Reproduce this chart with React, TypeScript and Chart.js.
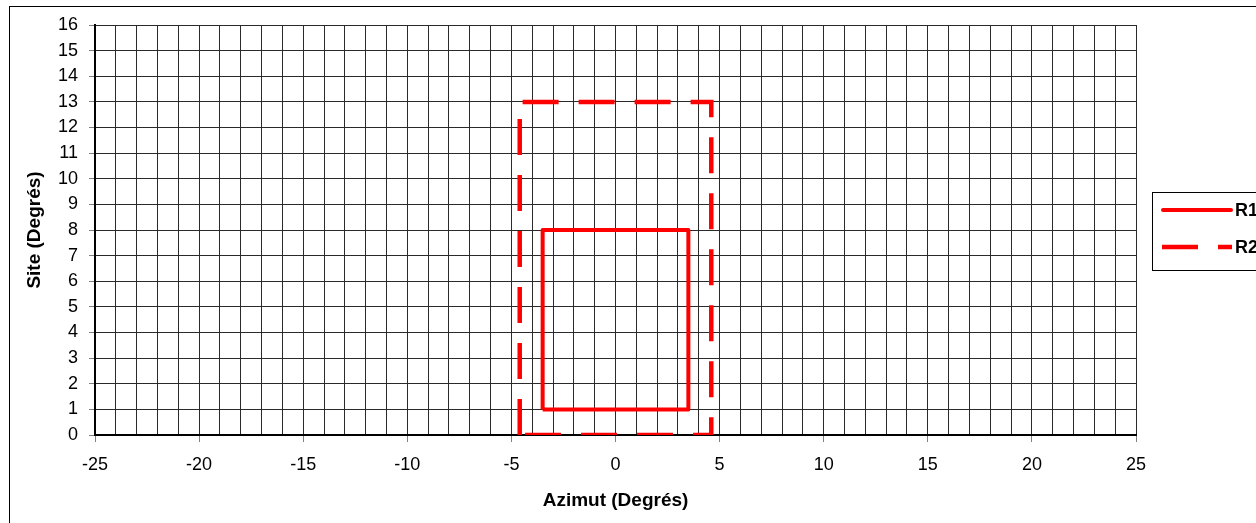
import React, { useEffect, useRef } from "react";
import { Chart, registerables } from "chart.js";

Chart.register(...registerables);

const seriesNames = ["R1", "R2"];
const r1X = [-3.5, -3.5, 3.5, 3.5, -3.5];
const r1Y = [1, 8, 8, 1, 1];
const r2X = [-4.6, -4.6, 4.6, 4.6, -4.6];
const r2Y = [0, 13, 13, 0, 0];
const xMin = -25;
const xMax = 25;
const xLabelStep = 5;
const yMin = 0;
const yMax = 16;
const xTitle = "Azimut (Degrés)";
const yTitle = "Site (Degrés)";

const FONT = "'Liberation Sans', Arial, Helvetica, sans-serif";

const frameAndLegend = {
  id: "frameAndLegend",
  beforeDraw(chart: any) {
    const ctx = chart.ctx;
    ctx.save();
    ctx.fillStyle = "#ffffff";
    ctx.fillRect(0, 0, chart.width, chart.height);
    ctx.strokeStyle = "#000000";
    ctx.lineWidth = 1;
    ctx.strokeRect(9.5, 6.5, 1400, 1000);
    ctx.restore();
  },
  afterDraw(chart: any) {
    const ctx = chart.ctx;
    ctx.save();
    ctx.strokeStyle = "#000000";
    ctx.lineWidth = 1;
    ctx.strokeRect(1152.5, 192.5, 200, 78);
    const rows = [210, 247];
    chart.data.datasets.forEach((ds: any, i: number) => {
      const y = rows[i];
      ctx.beginPath();
      ctx.strokeStyle = ds.borderColor;
      ctx.lineWidth = ds.borderWidth;
      ctx.setLineDash(ds.borderDash || []);
      ctx.lineCap = ds.borderDash && ds.borderDash.length ? "butt" : "round";
      ctx.moveTo(i === 0 ? 1163 : 1162, y);
      ctx.lineTo(i === 0 ? 1231 : 1232, y);
      ctx.stroke();
      ctx.setLineDash([]);
      ctx.fillStyle = "#000000";
      ctx.font = `bold 18px ${FONT}`;
      ctx.textBaseline = "middle";
      ctx.textAlign = "left";
      ctx.fillText(ds.label, 1235, y + 1);
    });
    ctx.restore();
  },
};

export default function App() {
  const ref = useRef<HTMLCanvasElement>(null);

  useEffect(() => {
    document.body.style.margin = "0";
    document.documentElement.style.overflow = "hidden";
    const canvas = ref.current!;
    const chart = new Chart(canvas, {
      type: "scatter",
      data: {
        datasets: [
          {
            label: seriesNames[0],
            data: r1X.map((x, i) => ({ x, y: r1Y[i] })),
            showLine: true,
            borderColor: "#ff0000",
            backgroundColor: "#ff0000",
            borderWidth: 4,
            pointRadius: 0,
            borderJoinStyle: "round",
            clip: 0,
          },
          {
            label: seriesNames[1],
            data: r2X.map((x, i) => ({ x, y: r2Y[i] })),
            showLine: true,
            borderColor: "#ff0000",
            backgroundColor: "#ff0000",
            borderWidth: 4.5,
            borderDash: [36, 20],
            pointRadius: 0,
            borderJoinStyle: "miter",
            clip: 0,
          },
        ],
      },
      options: {
        responsive: false,
        animation: false,
        layout: { padding: { left: 0, top: 25, right: 120, bottom: 0 } },
        plugins: {
          legend: { display: false },
          tooltip: { enabled: false },
        },
        scales: {
          x: {
            type: "linear",
            min: xMin,
            max: xMax,
            afterFit: (s: any) => {
              s.height = 88;
            },
            ticks: {
              stepSize: 1,
              autoSkip: false,
              maxRotation: 0,
              padding: 12,
              color: "#000000",
              font: { family: FONT, size: 18 },
              callback: (v: any) => (Number(v) % xLabelStep === 0 ? String(v) : ""),
            },
            grid: {
              color: "#2a2a2a",
              lineWidth: 1,
              tickLength: 7,
              tickColor: (c: any) =>
                c.tick && Number(c.tick.value) % xLabelStep === 0 ? "#808080" : "rgba(0,0,0,0)",
            },
            border: { color: "#000000", width: 2 },
            title: {
              display: true,
              text: xTitle,
              color: "#000000",
              font: { family: FONT, size: 19, weight: "bold" },
              padding: { top: 0, bottom: 11 },
            },
          },
          y: {
            type: "linear",
            min: yMin,
            max: yMax,
            afterFit: (s: any) => {
              s.width = 95;
            },
            ticks: {
              stepSize: 1,
              autoSkip: false,
              padding: 11,
              color: "#000000",
              font: { family: FONT, size: 18 },
            },
            grid: {
              color: "#2a2a2a",
              lineWidth: 1,
              tickLength: 6,
              tickColor: "#808080",
            },
            border: { color: "#000000", width: 2 },
            title: {
              display: true,
              text: yTitle,
              color: "#000000",
              font: { family: FONT, size: 19, weight: "bold" },
              padding: { top: 23, bottom: 0 },
            },
          },
        },
      },
      plugins: [frameAndLegend],
    });
    return () => chart.destroy();
  }, []);

  return (
    <div style={{ width: 1256, height: 523, overflow: "hidden" }}>
      <canvas ref={ref} width={1256} height={523} style={{ display: "block" }} />
    </div>
  );
}
